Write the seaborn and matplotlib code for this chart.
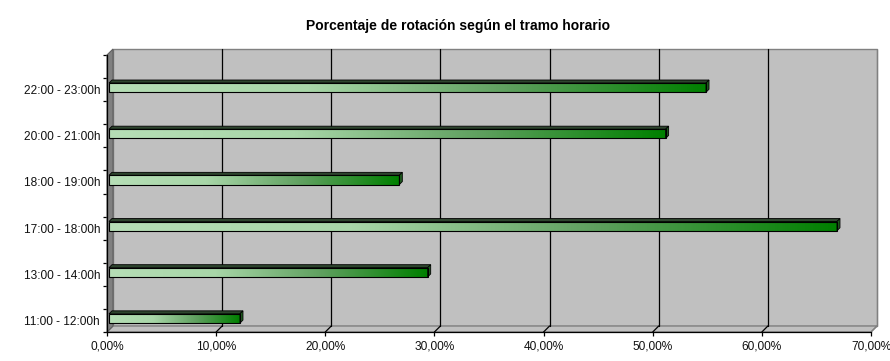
import numpy as np
import pandas as pd
import matplotlib
matplotlib.use("Agg")
import matplotlib.pyplot as plt
import matplotlib.transforms as mtransforms
from matplotlib.patches import Polygon, Rectangle
from matplotlib.colors import LinearSegmentedColormap
import seaborn as sns

# ---- data ----
categories = ["22:00 - 23:00h", "20:00 - 21:00h", "18:00 - 19:00h",
              "17:00 - 18:00h", "13:00 - 14:00h", "11:00 - 12:00h"]
values = [54.7, 51.0, 26.6, 66.7, 29.2, 12.0]
xticks = [0, 10, 20, 30, 40, 50, 60, 70]
xtick_labels = ["0,00%", "10,00%", "20,00%", "30,00%", "40,00%", "50,00%", "60,00%", "70,00%"]
title = "Porcentaje de rotación según el tramo horario"

sns.set_theme(style="white")
plt.rcParams['font.family'] = ['Liberation Sans', 'DejaVu Sans']

W, H = 890, 361
fig = plt.figure(figsize=(W / 100, H / 100), dpi=100)
fig.patch.set_facecolor("white")
L, R, T, B = 107, 871, 55, 332
ax = fig.add_axes([L / W, 1 - B / H, (R - L) / W, (B - T) / H])

df = pd.DataFrame({"tramo": categories, "pct": values})
sns.barplot(data=df, x="pct", y="tramo", order=categories, orient="h",
            width=0.2, color="#80c080", edgecolor="black", linewidth=0.8,
            ax=ax, zorder=6)

XMAX = 70
YTOP, YBOT = -0.75, 5.25
ax.set_xlim(0, XMAX)
ax.set_ylim(YBOT, YTOP)
ax.set_facecolor("none")

px_x = (R - L) / XMAX
px_y = (B - T) / (YBOT - YTOP)


def off(x, y, d):
    return (x + d / px_x, y - d / px_y)


D = 6
# back wall
ax.add_patch(Rectangle(off(0, YTOP, D), XMAX, YBOT - YTOP, facecolor="#C0C0C0",
                       edgecolor="#808080", linewidth=1.0, zorder=0, clip_on=False))
# floor
ax.add_patch(Polygon([(0, YBOT), (XMAX, YBOT), off(XMAX, YBOT, D), off(0, YBOT, D)],
                     closed=True, facecolor="#C0C0C0", edgecolor="#808080",
                     linewidth=1.0, zorder=1, clip_on=False))
# left wall
ax.add_patch(Polygon([(0, YBOT), (0, YTOP), off(0, YTOP, D), off(0, YBOT, D)],
                     closed=True, facecolor="#808080", edgecolor="#606060",
                     linewidth=0.8, zorder=1, clip_on=False))
# gridlines on back wall + floor diagonals
for xv in xticks[1:]:
    col = "black" if xv < XMAX else "#808080"
    a = off(xv, YTOP, D)
    b = off(xv, YBOT, D)
    ax.plot([a[0], b[0]], [a[1], b[1]], color=col, lw=0.9, zorder=2, clip_on=False)
    ax.plot([b[0], xv], [b[1], YBOT], color=col, lw=0.9, zorder=2, clip_on=False)

# bars: gradient fill + 3D faces
cmap = LinearSegmentedColormap.from_list("g", ["#B6DEB6", "#A8D6A8", "#5FA05F", "#008000"])
grad = np.linspace(0, 1, 256).reshape(1, -1)
mid = mtransforms.offset_copy(ax.transData, fig=fig, x=2, y=2, units="dots")
dd = 3
for p in list(ax.patches):
    if not isinstance(p, Rectangle) or p.get_zorder() != 6:
        continue
    x0, y0, w, h = p.get_x(), p.get_y(), p.get_width(), p.get_height()
    p.set_transform(mid)
    p.set_facecolor("none")
    x1 = x0 + w
    ax.imshow(grad, extent=[x0, x1, y0 + h, y0], transform=mid, cmap=cmap,
              aspect="auto", zorder=5, interpolation="bilinear")
    top = Polygon([(x0, y0), (x1, y0), off(x1, y0, dd), off(x0, y0, dd)], closed=True,
                  facecolor="#2E452E", edgecolor="black", linewidth=0.6,
                  transform=mid, zorder=5.5, clip_on=False)
    side = Polygon([(x1, y0), (x1, y0 + h), off(x1, y0 + h, dd), off(x1, y0, dd)], closed=True,
                   facecolor="#1E5A1E", edgecolor="black", linewidth=0.6,
                   transform=mid, zorder=5.5, clip_on=False)
    ax.add_patch(top)
    ax.add_patch(side)

ax.set_xlim(0, XMAX)
ax.set_ylim(YBOT, YTOP)

# axes / ticks
for s in ["top", "right"]:
    ax.spines[s].set_visible(False)
for s in ["left", "bottom"]:
    ax.spines[s].set_visible(True)
    ax.spines[s].set_color("black")
    ax.spines[s].set_linewidth(0.9)
    ax.spines[s].set_zorder(7)

ax.set_xticks(xticks)
ax.set_xticklabels(xtick_labels)
ax.set_yticks(range(len(categories)))
ax.set_yticklabels(categories)
ax.set_yticks(np.arange(YTOP, YBOT + 0.01, 0.5), minor=True)
ax.tick_params(axis="y", which="major", length=0, pad=5, labelsize=8.6, labelcolor="#111111")
ax.tick_params(axis="y", which="minor", length=3, width=0.9, color="black", left=True)
ax.tick_params(axis="x", which="major", length=3, width=0.9, color="black", bottom=True,
               pad=3, labelsize=8.6, labelcolor="#111111")
ax.set_xlabel("")
ax.set_ylabel("")
ax.grid(False)

fig.text(458.5 / W, 1 - 26 / H, title, ha="center", va="center",
         fontsize=10, fontweight="bold", color="black")

fig.savefig("out.png", dpi=100)
